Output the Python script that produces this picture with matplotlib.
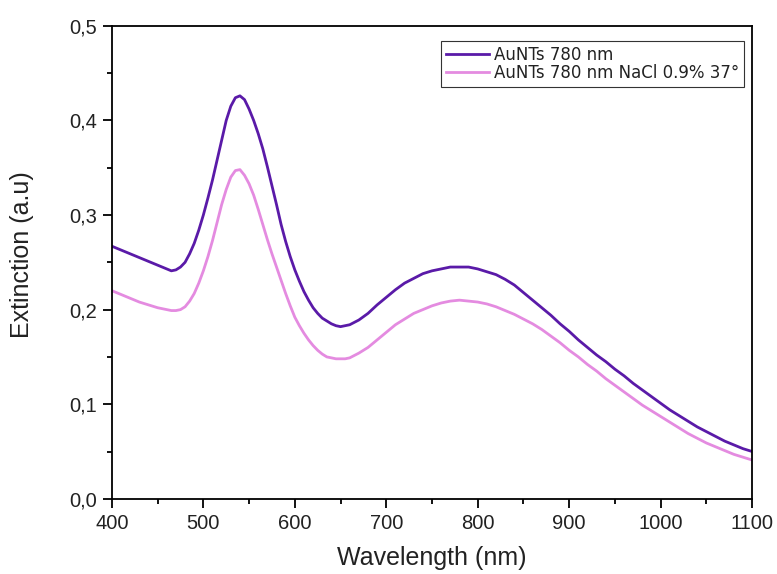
import matplotlib
matplotlib.use("Agg")
import matplotlib.pyplot as plt
from matplotlib.ticker import FuncFormatter, MultipleLocator, AutoMinorLocator

plt.rcParams["font.family"] = ["Liberation Sans", "DejaVu Sans"]

# sampled every 10 nm, every 5 nm around the plasmon peak
wavelength = (list(range(400, 460, 10)) + list(range(460, 665, 5))
              + list(range(670, 1110, 10)))

aunts = [0.267, 0.263, 0.259, 0.255, 0.251, 0.247,
         0.243, 0.241, 0.242, 0.245, 0.250, 0.259, 0.270, 0.284, 0.300, 0.318,
         0.337, 0.358, 0.379, 0.400, 0.415, 0.424, 0.426, 0.422, 0.412, 0.400,
         0.386, 0.370, 0.351, 0.331, 0.311, 0.290, 0.272, 0.256, 0.242, 0.230,
         0.219, 0.210, 0.202, 0.196, 0.191, 0.188, 0.185, 0.183, 0.182, 0.183,
         0.184,
         0.189, 0.196, 0.205, 0.213, 0.221, 0.228, 0.233, 0.238, 0.241, 0.243,
         0.245, 0.245, 0.245, 0.243, 0.240, 0.237, 0.232, 0.226, 0.218, 0.210,
         0.202, 0.194, 0.185, 0.177, 0.168, 0.160, 0.152, 0.145, 0.137, 0.130,
         0.122, 0.115, 0.108, 0.101, 0.094, 0.088, 0.082, 0.076, 0.071, 0.066,
         0.061, 0.057, 0.053, 0.050]

aunts_nacl = [0.220, 0.216, 0.212, 0.208, 0.205, 0.202,
              0.200, 0.199, 0.199, 0.200, 0.203, 0.209, 0.217, 0.228, 0.241,
              0.256, 0.273, 0.292, 0.311, 0.327, 0.340, 0.347, 0.348, 0.342,
              0.333, 0.321, 0.306, 0.290, 0.274, 0.259, 0.245, 0.231, 0.217,
              0.204, 0.192, 0.183, 0.175, 0.168, 0.162, 0.157, 0.153, 0.150,
              0.149, 0.148, 0.148, 0.148, 0.149,
              0.154, 0.160, 0.168, 0.176, 0.184, 0.190, 0.196, 0.200, 0.204,
              0.207, 0.209, 0.210, 0.209, 0.208, 0.206, 0.203, 0.199, 0.195,
              0.190, 0.185, 0.179, 0.172, 0.165, 0.157, 0.150, 0.142, 0.135,
              0.127, 0.120, 0.113, 0.106, 0.099, 0.093, 0.087, 0.081, 0.075,
              0.069, 0.064, 0.059, 0.055, 0.051, 0.047, 0.044, 0.041]

labels = ["AuNTs 780 nm", "AuNTs 780 nm NaCl 0.9% 37°"]


def main():
    fig = plt.figure(figsize=(7.77, 5.74), dpi=100)
    ax = fig.add_axes([0.144, 0.131, 0.824, 0.824])

    ax.plot(wavelength, aunts, color="#5a1aa8", lw=2.0, label=labels[0],
            solid_joinstyle="round")
    ax.plot(wavelength, aunts_nacl, color="#e48be0", lw=2.0, label=labels[1],
            solid_joinstyle="round")

    ax.set_xlim(400, 1100)
    ax.set_ylim(0, 0.5)
    ax.xaxis.set_major_locator(MultipleLocator(100))
    ax.xaxis.set_minor_locator(AutoMinorLocator(2))
    ax.yaxis.set_major_locator(MultipleLocator(0.1))
    ax.yaxis.set_minor_locator(AutoMinorLocator(2))
    ax.yaxis.set_major_formatter(FuncFormatter(lambda v, p: f"{v:.1f}".replace(".", ",")))

    ax.tick_params(which="both", direction="out", width=1.3, labelsize=14.5,
                   top=False, right=False, pad=4, labelcolor="#222222")
    ax.tick_params(which="major", length=6.7)
    ax.tick_params(which="minor", length=3.4)
    for s in ax.spines.values():
        s.set_linewidth(1.3)

    ax.set_xlabel("Wavelength (nm)", fontsize=18, color="#222222")
    ax.set_ylabel("Extinction (a.u)", fontsize=18, color="#222222")
    ax.xaxis.set_label_coords(0.5, -0.10)
    ax.yaxis.set_label_coords(-0.122, 0.516)

    leg = ax.legend(loc="upper right", bbox_to_anchor=(0.988, 0.968),
                    prop={"family": ["DejaVu Sans"], "size": 12},
                    fancybox=False, edgecolor="#333333", framealpha=1,
                    handlelength=2.6, handletextpad=0.3, borderpad=0.3,
                    labelspacing=0.0, borderaxespad=0)
    leg.get_frame().set_linewidth(0.8)
    for t in leg.get_texts():
        t.set_color("#222222")

    plt.savefig("out.png", dpi=100)


if __name__ == "__main__":
    main()
